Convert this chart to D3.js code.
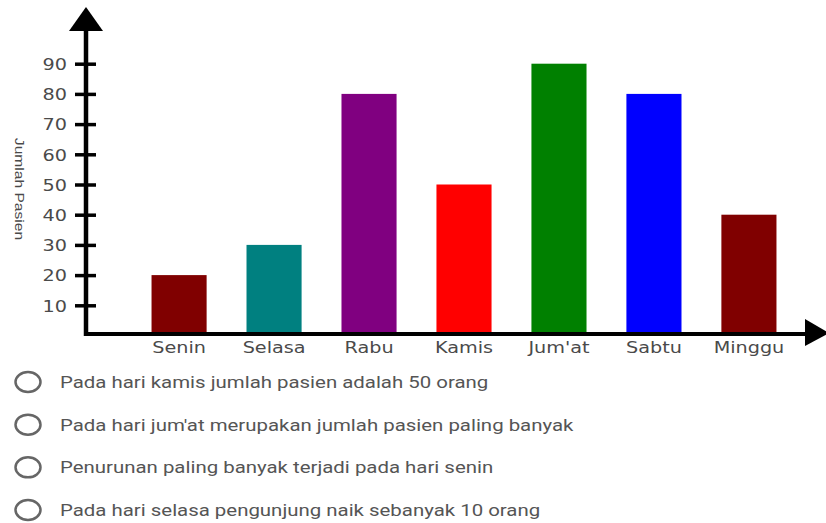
<!DOCTYPE html>
<html>
<head>
<meta charset="utf-8">
<script src="https://cdn.jsdelivr.net/npm/d3@7"></script>
<style>
  html, body { margin: 0; padding: 0; background: #fff; }
  svg { display: block; }
</style>
</head>
<body>
<svg id="chart" width="826" height="523"></svg>
<script>
// ---- data ----
const days = ["Senin", "Selasa", "Rabu", "Kamis", "Jum'at", "Sabtu", "Minggu"];
const patients = [20, 30, 80, 50, 90, 80, 40];
const barColors = ["#800000", "#008080", "#800080", "#ff0000", "#008000", "#0000ff", "#800000"];
const yTicks = [10, 20, 30, 40, 50, 60, 70, 80, 90];
const yTitle = "Jumlah Pasien";
const options = [
  "Pada hari kamis jumlah pasien adalah 50 orang",
  "Pada hari jum'at merupakan jumlah pasien paling banyak",
  "Penurunan paling banyak terjadi pada hari senin",
  "Pada hari selasa pengunjung naik sebanyak 10 orang"
];

// ---- layout ----
const STRETCH = 1.2; // the reference is horizontally stretched
const svg = d3.select("#chart");
const axisX = 86, axisY = 334;

const x = d3.scaleBand().domain(days).range([86, 842]).paddingInner(0.42).paddingOuter(0.69);
const y = d3.scaleLinear().domain([0, 100]).range([335.5, 33.5]);

function stretch(sel, anchor) {
  sel.each(function () {
    const t = d3.select(this);
    const w = this.getComputedTextLength();
    const sw = w * STRETCH;
    t.attr("textLength", sw).attr("lengthAdjust", "spacingAndGlyphs").attr("text-anchor", "start");
    const x0 = +t.attr("x") || 0;
    if (anchor === "middle") t.attr("x", x0 - sw / 2);
    else if (anchor === "end") t.attr("x", x0 - sw);
  });
}

// bars
svg.append("g").selectAll("rect").data(days).join("rect")
  .attr("x", d => x(d))
  .attr("width", x.bandwidth())
  .attr("y", (d, i) => y(patients[i]))
  .attr("height", (d, i) => axisY - y(patients[i]))
  .attr("fill", (d, i) => barColors[i]);

// y axis ticks & labels
const gy = svg.append("g").attr("transform", `translate(${axisX},0)`)
  .call(d3.axisLeft(y).tickValues(yTicks).tickSize(0).tickPadding(19).tickFormat(d3.format("d")));
gy.select(".domain").remove();
gy.selectAll(".tick line").attr("x1", -11).attr("x2", 10).attr("stroke", "#000").attr("stroke-width", 3.5);
gy.selectAll(".tick text")
  .attr("font-family", "DejaVu Sans").attr("font-size", 16).attr("fill", "#4a4a4a")
  .attr("dy", "0.36em")
  .call(stretch, "end");

// x axis labels
const gx = svg.append("g").attr("transform", `translate(0,${axisY})`)
  .call(d3.axisBottom(x).tickSize(0).tickPadding(0));
gx.select(".domain").remove();
gx.selectAll(".tick text")
  .attr("font-family", "DejaVu Sans").attr("font-size", 16).attr("fill", "#4a4a4a")
  .attr("y", 19).attr("dy", 0)
  .call(stretch, "middle");

// axis lines with arrows
svg.append("line").attr("x1", axisX).attr("x2", axisX).attr("y1", axisY + 2).attr("y2", 28)
  .attr("stroke", "#000").attr("stroke-width", 4.5);
svg.append("path").attr("d", `M${axisX},7 L${axisX + 17},31 L${axisX - 17},31 Z`).attr("fill", "#000");
svg.append("line").attr("x1", axisX - 2).attr("x2", 808).attr("y1", axisY).attr("y2", axisY)
  .attr("stroke", "#000").attr("stroke-width", 4);
svg.append("path").attr("d", `M829,${axisY - 1} L805,${axisY - 15} L805,${axisY + 12} Z`).attr("fill", "#000");

// y title
svg.append("text")
  .attr("transform", "translate(15,189) rotate(90)")
  .attr("x", 0).attr("y", 0)
  .attr("font-family", "Liberation Sans").attr("font-size", 13).attr("fill", "#4a4a4a")
  .text(yTitle)
  .call(stretch, "middle");

// answer options
const rowY = d3.scalePoint().domain(d3.range(options.length)).range([382, 510]);
const og = svg.append("g").selectAll("g").data(options).join("g")
  .attr("transform", (d, i) => `translate(0,${rowY(i)})`);
og.append("ellipse").attr("cx", 28).attr("cy", 0).attr("rx", 12.5).attr("ry", 10)
  .attr("fill", "none").attr("stroke", "#666").attr("stroke-width", 2.5);
og.append("text").attr("x", 60).attr("y", 0).attr("dy", "0.35em")
  .attr("font-family", "Roboto").attr("font-size", 17).attr("fill", "#555")
  .text(d => d)
  .call(stretch, "start");
</script>
</body>
</html>
